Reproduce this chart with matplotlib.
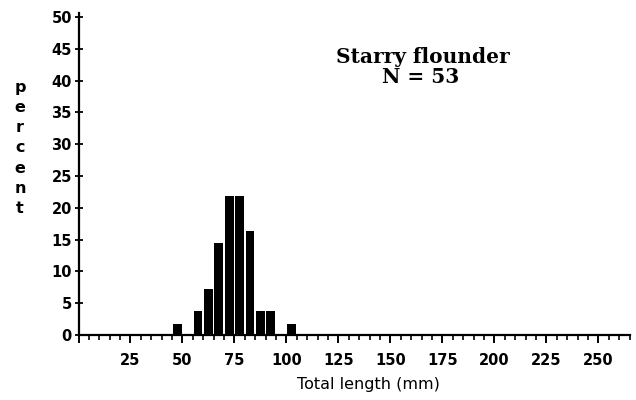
import matplotlib
matplotlib.use("Agg")
import matplotlib.pyplot as plt
from matplotlib.ticker import MultipleLocator, FixedLocator, FixedFormatter

# Data
bin_centers = [47.5, 57.5, 62.5, 67.5, 72.5, 77.5, 82.5, 87.5, 92.5, 102.5]
percent = [1.8, 3.7, 7.3, 14.5, 21.8, 21.8, 16.4, 3.7, 3.7, 1.8]
x_major = [0, 25, 50, 75, 100, 125, 150, 175, 200, 225, 250]
x_labels = ["", "25", "50", "75", "100", "125", "150", "175", "200", "225", "250"]
y_ticks = [0, 5, 10, 15, 20, 25, 30, 35, 40, 45, 50]
title_lines = ["Starry flounder", "N = 53"]

fig = plt.figure(figsize=(6.36, 4.0), dpi=100)
ax = fig.add_axes([78.5 / 636, 65 / 400, 551 / 636, 318 / 400])

ax.bar(bin_centers, percent, width=4.2, color="black", align="center", zorder=3)

ax.set_xlim(0, 265)
ax.set_ylim(0, 50)

for s in ["top", "right"]:
    ax.spines[s].set_visible(False)
for s in ["left", "bottom"]:
    ax.spines[s].set_linewidth(1.6)
ax.spines["left"].set_bounds(0, 50.6)

sans = ["DejaVu Sans"]
ax.xaxis.set_major_locator(FixedLocator(x_major))
ax.xaxis.set_major_formatter(FixedFormatter(x_labels))
ax.xaxis.set_minor_locator(MultipleLocator(5))
ax.yaxis.set_major_locator(FixedLocator(y_ticks))
ax.set_yticklabels([str(v) for v in y_ticks])

ax.tick_params(axis="x", which="major", direction="out", length=6, width=1.4, pad=7)
ax.tick_params(axis="x", which="minor", direction="out", length=3.6, width=1.2)
ax.tick_params(axis="y", which="major", direction="inout", length=5.5, width=1.3, pad=2)
for lab in ax.get_xticklabels() + ax.get_yticklabels():
    lab.set_fontfamily(sans)
    lab.set_fontweight("bold")
    lab.set_fontsize(10.5)

ax.set_xlabel("Total length (mm)", fontsize=11.5, family=sans)
ax.xaxis.set_label_coords((368 - 78.5) / 551, -0.133)

fig.text(20 / 636, 1 - 148 / 400, "\n".join("percent"), ha="center", va="center",
         multialignment="center", fontsize=11.5, family=sans, fontweight="semibold",
         linespacing=1.42)

fig.text(423 / 636, 1 - 57 / 400, title_lines[0], ha="center", va="center",
         fontsize=14.5, fontweight="bold", family=["DejaVu Serif"])
fig.text(421 / 636, 1 - 77 / 400, title_lines[1], ha="center", va="center",
         fontsize=14.5, fontweight="bold", family=["DejaVu Serif"])

fig.savefig("out.png", dpi=100)
